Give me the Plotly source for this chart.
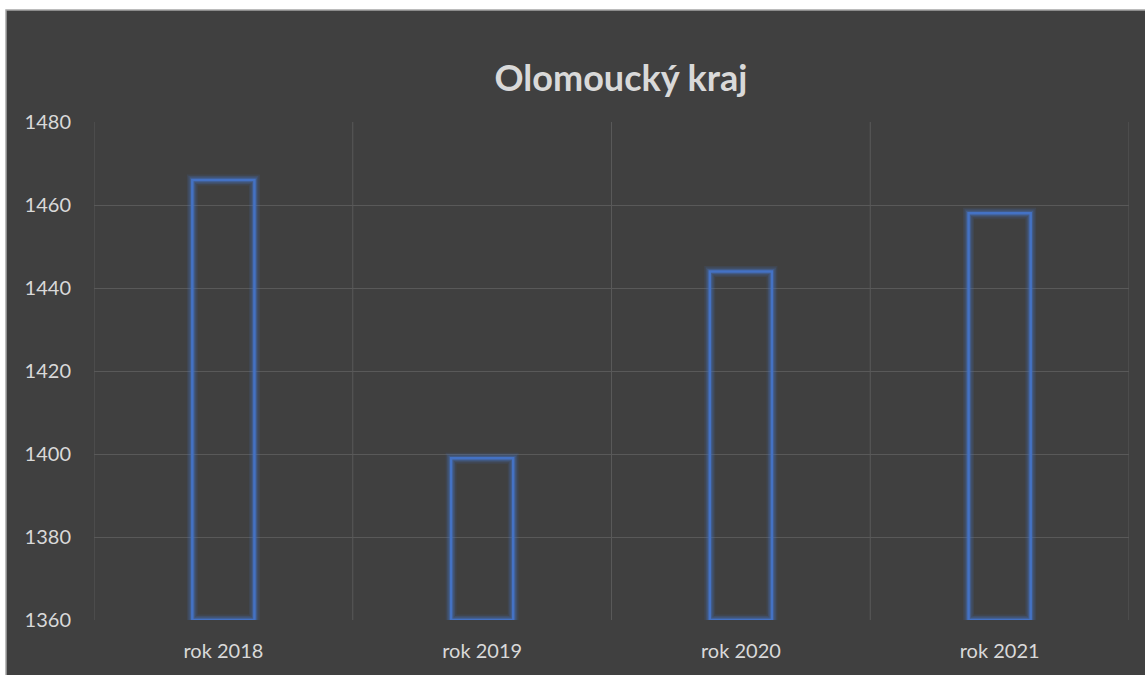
"""Olomoucky kraj column chart, dark Excel-style theme."""
import plotly.graph_objects as go

years = ["rok 2018", "rok 2019", "rok 2020", "rok 2021"]
values = [1466, 1399, 1444, 1458]
y_ticks = [1360, 1380, 1400, 1420, 1440, 1460, 1480]

BG = "#404040"
GRID = "#595959"
TEXT = "#d9d9d9"
BLUE = "#4472c4"
FONT = "Lato, Open Sans, sans-serif"

fig = go.Figure()

# soft glow around the outlined bars: wide translucent strokes underneath
for w, a in ((11, 0.12), (8, 0.2), (5, 0.35)):
    fig.add_trace(go.Bar(
        x=years, y=[v - 1360 for v in values], base=1360, width=0.24,
        marker=dict(color="rgba(0,0,0,0)", line=dict(color=f"rgba(68,114,196,{a})", width=w)),
        hoverinfo="skip", showlegend=False,
    ))

fig.add_trace(go.Bar(
    x=years, y=[v - 1360 for v in values], base=1360, width=0.24,
    marker=dict(color="rgba(0,0,0,0)", line=dict(color=BLUE, width=2.5)),
    showlegend=False,
))

# dark chart area with thin light border, leaving a white strip top/left
W, H = 1145, 675
ml, mr, mt, mb = 94, 16, 122, 55
pw, ph = W - ml - mr, H - mt - mb
fig.add_shape(
    type="rect", xref="paper", yref="paper", layer="below",
    x0=(6 - ml) / pw, x1=(W + 30 - ml) / pw,
    y0=-(mb + 30) / ph, y1=(ph + mt - 10) / ph,
    fillcolor=BG, line=dict(color="#a6a6a6", width=1.5),
)

fig.update_layout(
    width=W, height=H,
    margin=dict(l=ml, r=mr, t=mt, b=mb),
    paper_bgcolor="white", plot_bgcolor=BG,
    barmode="overlay",
    title=dict(text="<b>Olomoucký kraj</b>", x=(621 - ml) / pw, xref="paper", xanchor="center",
               y=(H - 78) / H, yanchor="middle",
               font=dict(family=FONT, size=36, color=TEXT)),
    font=dict(family=FONT, size=20, color=TEXT),
)

fig.update_yaxes(
    range=[1360, 1480], tickvals=y_ticks, showgrid=True, gridcolor=GRID, gridwidth=1,
    zeroline=False, showline=False, ticklabelstandoff=22,
    tickfont=dict(size=20, color=TEXT),
)
fig.update_xaxes(
    showgrid=False, showline=False, zeroline=False, ticklabelstandoff=17,
    tickfont=dict(size=20, color=TEXT),
)

# vertical gridlines at category boundaries
for i in range(len(years) + 1):
    fig.add_shape(type="line", xref="x", yref="paper", x0=i - 0.5, x1=i - 0.5, y0=0, y1=1,
                  line=dict(color=GRID, width=1), layer="below")
fig.update_xaxes(range=[-0.5, len(years) - 0.5])

# drop the default page margin so the figure sits at the window origin
fig.write_html("out.html", config={"displayModeBar": False},
               post_script="document.body.style.margin='0';")
